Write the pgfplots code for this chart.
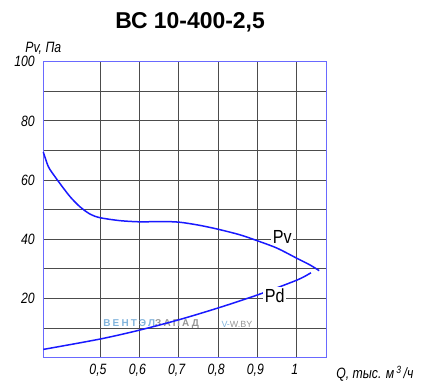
\documentclass[border=0pt]{standalone}
\usepackage{pgfplots}
\pgfplotsset{compat=1.18}
\usepackage{fontspec}
\setmainfont{Liberation Sans}
\usepackage{graphicx}
\definecolor{frameblue}{RGB}{105,105,255}
\definecolor{curveblue}{RGB}{25,25,255}
\definecolor{wmblue}{RGB}{130,180,220}
\definecolor{wmgray}{RGB}{150,150,150}
\newcommand{\g}[1]{\scalebox{0.82}[1]{\itshape #1}}
\begin{document}
\begin{tikzpicture}
\path[use as bounding box] (-43.3bp,-28.3bp) rectangle (399.7bp,357.7bp);
\begin{axis}[
  at={(0,0)}, anchor=south west,
  scale only axis, width=283.4bp, height=296bp,
  xmin=0.356, xmax=1.076, ymin=0, ymax=100,
  axis line style={frameblue, line width=1.2bp},
  xtick={0.5,0.6,0.7,0.8,0.9,1},
  xticklabels={{\g{0,5}},{\g{0,6}},{\g{0,7}},{\g{0,8}},{\g{0,9}},{\g{1}}},
  ytick={10,20,30,40,50,60,70,80,90},
  yticklabels={,\g{20},,\g{40},,\g{60},,\g{80},},
  extra y ticks={100},
  extra y tick labels={\g{100}},
  extra y tick style={grid=none},
  major tick length=0pt,
  grid=major,
  major grid style={black!70, line width=0.8bp},
  tick label style={font=\fontsize{15}{15}\selectfont},
  yticklabel style={xshift=-5bp},
  xticklabel style={yshift=-3bp, xshift=-2bp},
  clip=false,
]
\node[font=\fontsize{10}{10}\selectfont\bfseries] at (axis cs:0.630,11.4)
  {\addfontfeature{LetterSpace=22}\textcolor{wmblue}{ВЕНТЭЛ}\textcolor{wmgray}{ЗАПАД}};
\node[font=\fontsize{9}{9}\selectfont] at (axis cs:0.848,11.4)
  {\textcolor{wmblue}{V-}\textcolor{wmgray}{W.BY}};

\addplot[curveblue, line width=1.5bp, smooth] coordinates {
(0.356,69.5) (0.369,64.5) (0.386,61.1) (0.398,58.9) (0.424,54.4)
(0.449,51.0) (0.475,48.5) (0.5,47.3) (0.551,46.3) (0.602,45.9)
(0.653,46.0) (0.70,45.8) (0.75,44.8) (0.80,43.4) (0.856,41.5)
(0.90,39.5) (0.95,37.0) (1.0,33.6) (1.034,31.3) (1.057,29.4)
};
\addplot[curveblue, line width=1.5bp, smooth] coordinates {
(0.356,2.8) (0.5,6.3) (0.6,9.3) (0.7,12.8) (0.8,16.8)
(0.9,21.2) (1.0,26.2) (1.036,28.7)
};

\node[fill=white, inner sep=1.5bp, font=\fontsize{19}{19}\selectfont] at (axis cs:0.963,40.9) {\scalebox{0.85}[1]{Pv}};
\node[fill=white, inner sep=1.5bp, font=\fontsize{19}{19}\selectfont] at (axis cs:0.944,20.9) {\scalebox{0.85}[1]{Pd}};

\node[font=\fontsize{23}{23}\selectfont\bfseries] at (rel axis cs:0.518,1.134) {ВС 10-400-2,5};
\node[font=\fontsize{15}{15}\selectfont] at (rel axis cs:0.0,1.046) {\g{Pv, Па}};
\node[font=\fontsize{15}{15}\selectfont] at (rel axis cs:1.170,-0.055) {\g{Q, тыс. м\,\textsuperscript{3}\,/ч}};
\end{axis}
\end{tikzpicture}
\end{document}
